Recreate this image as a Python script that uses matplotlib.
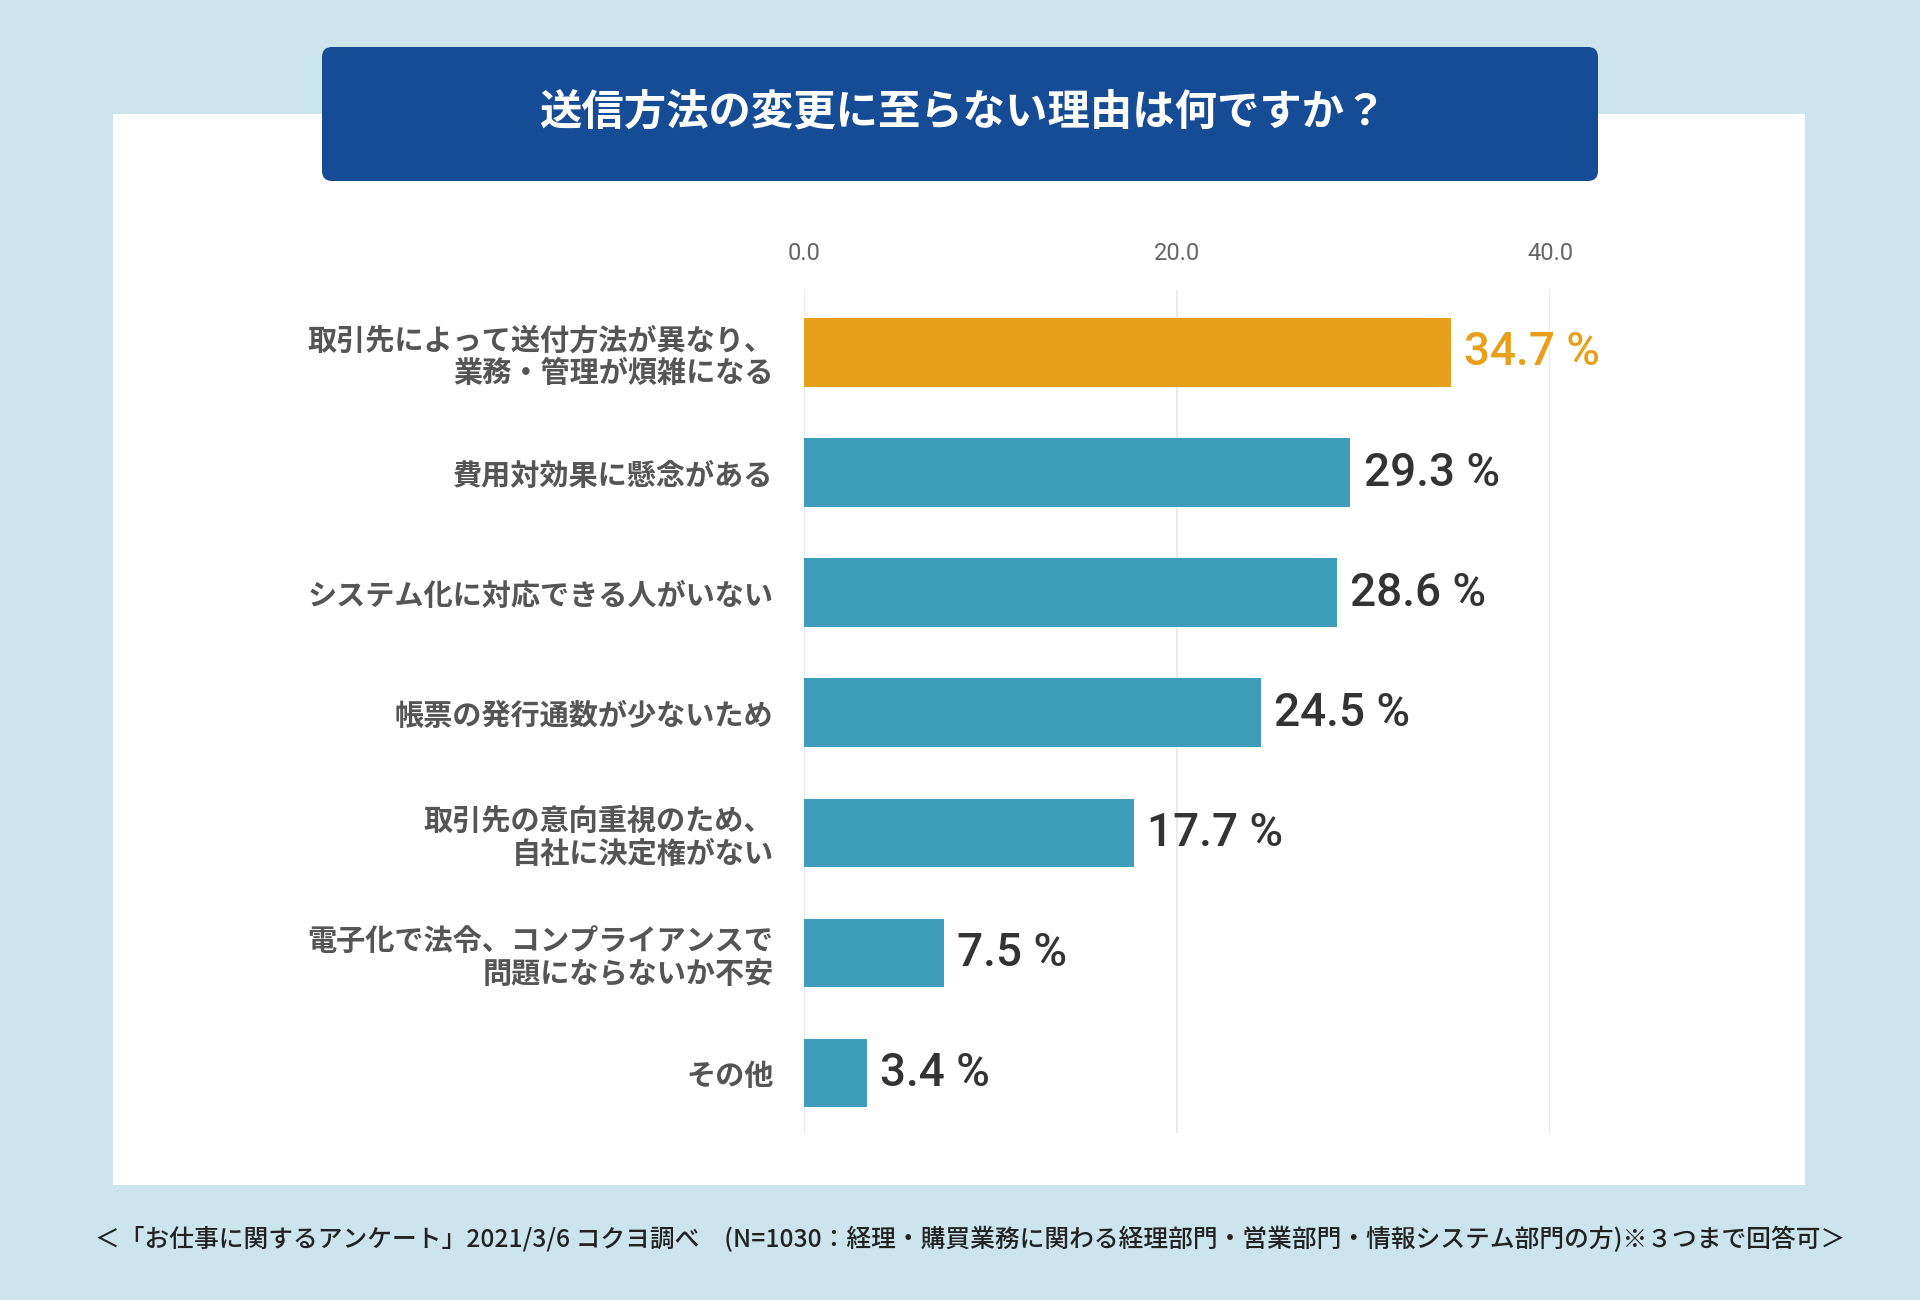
import matplotlib
matplotlib.use("Agg")
import matplotlib.pyplot as plt
from matplotlib.patches import Rectangle, FancyBboxPatch

plt.rcParams['font.family'] = ['Noto Sans CJK JP', 'DejaVu Sans']

# data
categories = [
    "取引先によって送付方法が異なり、\n業務・管理が煩雑になる",
    "費用対効果に懸念がある",
    "システム化に対応できる人がいない",
    "帳票の発行通数が少ないため",
    "取引先の意向重視のため、\n自社に決定権がない",
    "電子化で法令、コンプライアンスで\n問題にならないか不安",
    "その他",
]
values = [34.7, 29.3, 28.6, 24.5, 17.7, 7.5, 3.4]
xticks = [0, 20, 40]
title = "送信方法の変更に至らない理由は何ですか？"
footer = ("＜「お仕事に関するアンケート」2021/3/6 コクヨ調べ　(N=1030：経理・購買業務に関わる"
          "経理部門・営業部門・情報システム部門の方)※３つまで回答可＞")

orange = "#e8a01c"
teal = "#3e9db8"

fig = plt.figure(figsize=(19.2, 13), dpi=100)
fig.patch.set_facecolor("#cce4ec")

# background shapes in pixel coordinates
bg = fig.add_axes([0, 0, 1, 1], zorder=-1)
bg.set_xlim(0, 1920)
bg.set_ylim(1300, 0)
bg.axis("off")
bg.add_patch(Rectangle((113, 114), 1692, 1071, facecolor="white", edgecolor="none"))
bg.add_patch(FancyBboxPatch((322, 47), 1276, 134, boxstyle="round,pad=0,rounding_size=10",
                            facecolor="#164c96", edgecolor="none"))
bg.text(963, 112, title, color="white", fontsize=30.5, fontweight="bold",
        ha="center", va="center")
bg.text(970, 1240, footer, color="#222222", fontsize=17.8, fontweight="medium",
        ha="center", va="center")

# bar chart
ax = fig.add_axes([804 / 1920, 1 - 1133 / 1300, 746 / 1920, (1133 - 290) / 1300])
ax.set_facecolor("none")
ypos = list(range(len(values)))
colors = [orange] + [teal] * (len(values) - 1)
ax.barh(ypos, values, height=0.57, color=colors, zorder=3)

for y, v, c in zip(ypos, values, colors):
    ax.text(v + 0.7, y, f"{v} %", va="center", ha="left", fontsize=33,
            fontweight="medium", color=orange if c == orange else "#333333",
            family=["Roboto", "DejaVu Sans"], clip_on=False)

ax.set_xlim(0, 40)
ax.set_ylim(len(values) - 0.5, -0.52)
ax.set_xticks(xticks)
ax.set_xticklabels([f"{t:.1f}" for t in xticks], fontsize=17, color="#666666",
                   family=["Roboto", "DejaVu Sans"])
ax.xaxis.tick_top()
ax.tick_params(axis="x", length=0, pad=18)
ax.set_yticks(ypos)
ax.set_yticklabels(categories, fontsize=21, fontweight="bold", color="#555555",
                   multialignment="right", linespacing=1.12)
ax.tick_params(axis="y", length=0, pad=22)
ax.grid(axis="x", color="#e6e6e6", linewidth=1.2, zorder=0)
for s in ax.spines.values():
    s.set_visible(False)

fig.savefig("out.png", dpi=100)
